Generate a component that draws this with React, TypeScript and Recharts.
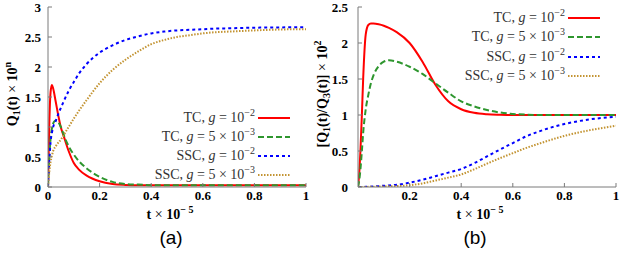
import React from 'react';
import { LineChart, Line, XAxis, YAxis } from 'recharts';

// shared time grid (t × 10^-5)
const tGrid = [0, 0.005, 0.01, 0.015, 0.02, 0.03, 0.04, 0.05, 0.06, 0.08, 0.1, 0.12, 0.15, 0.2, 0.25, 0.3, 0.35, 0.4, 0.45, 0.5, 0.55, 0.6, 0.65, 0.7, 0.8, 0.9, 1];

// panel (a): Q1(t) × 10^n
const aTC1 = [0, 1.05, 1.58, 1.7, 1.64, 1.42, 1.19, 0.99, 0.86, 0.6, 0.4, 0.29, 0.19, 0.095, 0.05, 0.035, 0.03, 0.03, 0.03, 0.03, 0.03, 0.03, 0.03, 0.03, 0.03, 0.03, 0.03];
const aTC5 = [0, 0.5, 0.8, 0.97, 1.06, 1.11, 1.08, 1.0, 0.88, 0.68, 0.54, 0.43, 0.31, 0.17, 0.085, 0.05, 0.04, 0.03, 0.03, 0.03, 0.03, 0.03, 0.03, 0.03, 0.03, 0.03, 0.03];
const aSSC1 = [0, 0.45, 0.75, 0.9, 1.0, 1.1, 1.22, 1.32, 1.42, 1.6, 1.75, 1.89, 2.05, 2.24, 2.36, 2.45, 2.51, 2.56, 2.59, 2.61, 2.62, 2.63, 2.64, 2.645, 2.655, 2.66, 2.665];
const aSSC5 = [0, 0.25, 0.42, 0.52, 0.6, 0.68, 0.74, 0.79, 0.86, 1.0, 1.14, 1.27, 1.45, 1.73, 1.95, 2.12, 2.26, 2.38, 2.45, 2.5, 2.53, 2.56, 2.58, 2.59, 2.61, 2.625, 2.63];

// panel (b): [Q1(t)/Q3(t)] × 10^2
const bTC1 = [0, 0.2, 0.55, 1.0, 1.5, 2.12, 2.25, 2.27, 2.27, 2.26, 2.24, 2.21, 2.15, 2.0, 1.74, 1.42, 1.19, 1.08, 1.03, 1.01, 1.003, 1.0, 1.0, 1.0, 1.0, 1.0, 1.0];
const bTC5 = [0, 0.1, 0.27, 0.5, 0.75, 1.08, 1.28, 1.44, 1.55, 1.68, 1.74, 1.76, 1.74, 1.67, 1.57, 1.44, 1.31, 1.19, 1.12, 1.07, 1.035, 1.015, 1.005, 1.0, 1.0, 1.0, 1.0];
const bSSC1 = [0, 0, 0, 0, 0.001, 0.002, 0.003, 0.005, 0.007, 0.012, 0.018, 0.022, 0.03, 0.06, 0.1, 0.15, 0.2, 0.25, 0.33, 0.425, 0.52, 0.61, 0.7, 0.77, 0.875, 0.94, 0.975];
const bSSC5 = [0, 0, 0, 0, 0, 0.001, 0.002, 0.003, 0.004, 0.006, 0.008, 0.01, 0.013, 0.025, 0.05, 0.09, 0.13, 0.175, 0.245, 0.325, 0.4, 0.47, 0.54, 0.6, 0.71, 0.79, 0.85];

const xTicksA = [0, 0.2, 0.4, 0.6, 0.8, 1];
const xTicksB = [0.2, 0.4, 0.6, 0.8, 1];
const yTicksA = [0, 0.5, 1, 1.5, 2, 2.5, 3];
const yTicksB = [0, 0.5, 1, 1.5, 2, 2.5];

const SERIF = '"Liberation Serif", "DejaVu Serif", serif';
const SANS = '"Liberation Sans", Arial, sans-serif';
const FRAME = '#7a7a7a';

const seriesStyle = [
  { key: 'tc1', color: '#ff0000', dash: undefined as string | undefined },
  { key: 'tc5', color: '#2e962e', dash: '6 3' },
  { key: 'ssc1', color: '#0000ff', dash: '3 3' },
  { key: 'ssc5', color: '#c39433', dash: '1.5 1.5' },
];

const rowsA = tGrid.map((t, i) => ({ t, tc1: aTC1[i], tc5: aTC5[i], ssc1: aSSC1[i], ssc5: aSSC5[i] }));
const rowsB = tGrid.map((t, i) => ({ t, tc1: bTC1[i], tc5: bTC5[i], ssc1: bSSC1[i], ssc5: bSSC5[i] }));

const fmt = (v: number) => String(v);

function makeYTick(labelX: number) {
  return (props: any) => (
    <text x={labelX} y={props.y} dy="0.35em" textAnchor="end" fontFamily={SERIF} fontWeight="bold" fontSize={13} fill="#000">
      {fmt(props.payload.value)}
    </text>
  );
}

const XTick = (props: any) => (
  <text x={props.x} y={195} dy="0.35em" textAnchor="middle" fontFamily={SERIF} fontWeight="bold" fontSize={13} fill="#000">
    {fmt(props.payload.value)}
  </text>
);

function Panel({ rows, xTicks, yTicks, yMax, yTickX }: any) {
  return (
    <LineChart width={310} height={255} data={rows} margin={{ top: 7, right: 4, bottom: 38, left: 8 }}>
      <XAxis dataKey="t" type="number" domain={[0, 1]} ticks={xTicks} interval={0} height={30}
        stroke={FRAME} tickSize={-4} tick={<XTick />} allowDataOverflow />
      <XAxis xAxisId="top" orientation="top" type="number" domain={[0, 1]} ticks={xTicks} height={0}
        stroke={FRAME} tickSize={-4} tick={false} />
      <YAxis type="number" domain={[0, yMax]} ticks={yTicks} interval={0} width={40}
        stroke={FRAME} tickSize={-4} tick={makeYTick(yTickX)} allowDataOverflow />
      <YAxis yAxisId="right" orientation="right" type="number" domain={[0, yMax]} ticks={yTicks} width={0}
        stroke={FRAME} tickSize={-4} tick={false} />
      {seriesStyle.map((s) => (
        <Line key={s.key} dataKey={s.key} type="monotone" stroke={s.color} strokeWidth={2}
          strokeDasharray={s.dash} dot={false} activeDot={false} isAnimationActive={false} />
      ))}
    </LineChart>
  );
}

function LegendRow({ x, y, label, g, color, dash }: any) {
  return (
    <g>
      <text x={x} y={y + 4} textAnchor="end" fontFamily={SERIF} fontSize={14} fill="#333">
        <tspan>{label}, </tspan>
        <tspan fontStyle="italic">g</tspan>
        <tspan> = {g}10</tspan>
        <tspan dy={-6} fontSize={10}>{g ? '−3' : '−2'}</tspan>
      </text>
      <line x1={x + 3} x2={x + 35} y1={y} y2={y} stroke={color} strokeWidth={2} strokeDasharray={dash} />
    </g>
  );
}

function Legend({ x, ys }: { x: number; ys: number[] }) {
  const labels = [['TC', ''], ['TC', '5 × '], ['SSC', ''], ['SSC', '5 × ']];
  return (
    <g>
      {labels.map((l, i) => (
        <LegendRow key={i} x={x} y={ys[i]} label={l[0]} g={l[1]} color={seriesStyle[i].color} dash={seriesStyle[i].dash} />
      ))}
    </g>
  );
}

export default function App() {
  return (
    <div style={{ position: 'absolute', left: 0, top: 0, width: 623, height: 255, background: '#fff' }}>
      <div style={{ position: 'absolute', left: 0, top: 0 }}>
        <Panel rows={rowsA} xTicks={xTicksA} yTicks={yTicksA} yMax={3} yTickX={41} />
      </div>
      <div style={{ position: 'absolute', left: 310, top: 0 }}>
        <Panel rows={rowsB} xTicks={xTicksB} yTicks={yTicksB} yMax={2.5} yTickX={38} />
      </div>
      <svg width={623} height={255} style={{ position: 'absolute', left: 0, top: 0, pointerEvents: 'none' }}>
        <Legend x={255} ys={[118, 137, 156, 175]} />
        <Legend x={565} ys={[18, 37, 57, 76]} />
        {/* x labels */}
        <text x={170} y={219} textAnchor="middle" fontFamily={SERIF} fontWeight="bold" fontSize={14}>
          <tspan>t </tspan><tspan fontWeight="normal">×</tspan><tspan> 10</tspan><tspan dy={-6} fontSize={10}>− 5</tspan>
        </text>
        <text x={480} y={219} textAnchor="middle" fontFamily={SERIF} fontWeight="bold" fontSize={14}>
          <tspan>t </tspan><tspan fontWeight="normal">×</tspan><tspan> 10</tspan><tspan dy={-6} fontSize={10}>− 5</tspan>
        </text>
        {/* y labels */}
        <text transform="translate(17,94) rotate(-90)" textAnchor="middle" fontFamily={SERIF} fontWeight="bold" fontSize={14}>
          <tspan>Q</tspan><tspan dy={3} fontSize={10}>1</tspan><tspan dy={-3}>(t) </tspan><tspan fontWeight="normal">×</tspan><tspan> 10</tspan><tspan dy={-6} fontSize={10}>n</tspan>
        </text>
        <text transform="translate(327,94) rotate(-90)" textAnchor="middle" fontFamily={SERIF} fontWeight="bold" fontSize={14}>
          <tspan>[Q</tspan><tspan dy={3} fontSize={10}>1</tspan><tspan dy={-3}>(t)/Q</tspan><tspan dy={3} fontSize={10}>3</tspan><tspan dy={-3}>(t)] </tspan><tspan fontWeight="normal">×</tspan><tspan> 10</tspan><tspan dy={-6} fontSize={10}>2</tspan>
        </text>
        {/* panel captions */}
        <text x={171} y={244} textAnchor="middle" fontFamily={SANS} fontSize={19}>(a)</text>
        <text x={475} y={244} textAnchor="middle" fontFamily={SANS} fontSize={19}>(b)</text>
      </svg>
    </div>
  );
}
